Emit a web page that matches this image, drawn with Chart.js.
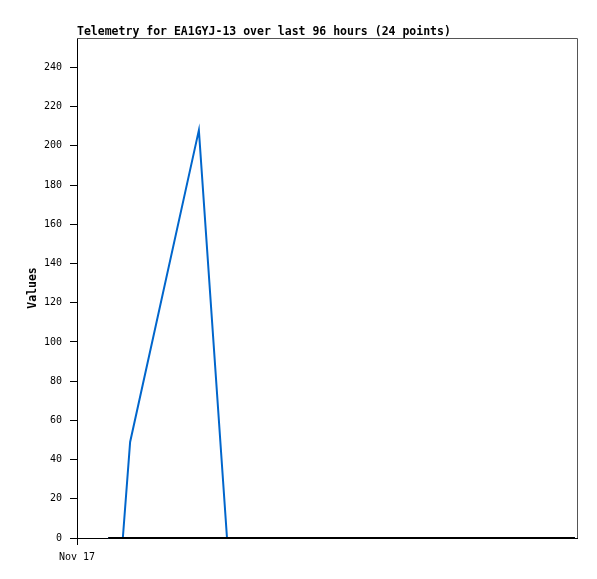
<!DOCTYPE html>
<html>
<head>
<meta charset="utf-8">
<script src="https://cdn.jsdelivr.net/npm/chart.js@4"></script>
<style>
  body { margin: 0; background: #fff; }
  canvas { display: block; }
</style>
</head>
<body>
<canvas id="grafico" width="597" height="579"></canvas>
<script>
// Datos (horas desde Nov 17 00:00)
const horas = [6.0, 8.8, 10.2, 23.4, 28.8, 32.5, 36.4, 40.1, 44.0, 47.8, 51.6, 55.3,
               59.2, 63.0, 66.7, 70.5, 74.3, 78.1, 81.9, 85.6, 88.4, 91.2, 93.5, 95.6];
const valoresAzul = [0, 0, 49, 208, 0, 0, 0, 0, 0, 0, 0, 0,
                     0, 0, 0, 0, 0, 0, 0, 0, 0, 0, 0, 0];
const valoresNegro = [0, 0, 0, 0, 0, 0, 0, 0, 0, 0, 0, 0,
                      0, 0, 0, 0, 0, 0, 0, 0, 0, 0, 0, 0];
const etiquetaX = 'Nov 17';
const titulo = 'Telemetry for EA1GYJ-13 over last 96 hours (24 points)';
const tituloY = 'Values';

const fuente = '"DejaVu Sans Mono", "Liberation Mono", monospace';

// Titulo, etiqueta del eje Y y borde gris
const extras = {
  id: 'extras',
  afterDraw(chart) {
    const ctx = chart.ctx;
    const area = chart.chartArea;
    ctx.save();
    ctx.strokeStyle = '#555';
    ctx.lineWidth = 1;
    ctx.beginPath();
    ctx.moveTo(area.left, area.top + 0.5);
    ctx.lineTo(area.right + 0.5, area.top + 0.5);
    ctx.lineTo(area.right + 0.5, area.bottom);
    ctx.stroke();

    ctx.fillStyle = '#000';
    ctx.font = 'bold 11.5px ' + fuente;
    ctx.textAlign = 'left';
    ctx.textBaseline = 'alphabetic';
    ctx.fillText(titulo, area.left, area.top - 3);

    ctx.translate(36, (area.top + area.bottom) / 2);
    ctx.rotate(-Math.PI / 2);
    ctx.textAlign = 'center';
    ctx.fillText(tituloY, 0, 0);
    ctx.restore();
  }
};

const ctx = document.getElementById('grafico').getContext('2d');
new Chart(ctx, {
  type: 'line',
  data: {
    datasets: [
      {
        label: 'negro',
        data: horas.map((h, i) => ({ x: h, y: valoresNegro[i] })),
        borderColor: '#000',
        borderWidth: 2,
        pointRadius: 0,
        tension: 0,
        clip: false
      },
      {
        label: 'azul',
        data: horas.map((h, i) => ({ x: h, y: valoresAzul[i] })),
        borderColor: '#0066cc',
        borderWidth: 2,
        pointRadius: 0,
        tension: 0,
        clip: false
      }
    ]
  },
  options: {
    responsive: false,
    animation: false,
    layout: { padding: { left: 0, top: 38, right: 20, bottom: 0 } },
    plugins: {
      legend: { display: false },
      tooltip: { enabled: false },
      title: { display: false }
    },
    scales: {
      x: {
        type: 'linear',
        min: 0,
        max: 96,
        afterBuildTicks: (scale) => { scale.ticks = [{ value: 0 }]; },
        afterFit: (scale) => { scale.height = 41; },
        ticks: {
          callback: () => etiquetaX,
          color: '#000',
          font: { family: fuente, size: 10 },
          maxRotation: 0,
          padding: 6
        },
        grid: {
          drawOnChartArea: false,
          drawTicks: true,
          tickLength: 7,
          tickColor: '#000'
        },
        border: { color: '#000', width: 1 }
      },
      y: {
        min: 0,
        max: 255,
        afterBuildTicks: (scale) => {
          const t = [];
          for (let v = 0; v <= 240; v += 20) t.push({ value: v });
          scale.ticks = t;
        },
        afterFit: (scale) => { scale.width = 77; },
        ticks: {
          color: '#000',
          font: { family: fuente, size: 10 },
          padding: 8
        },
        grid: {
          drawOnChartArea: false,
          drawTicks: true,
          tickLength: 7,
          tickColor: '#000'
        },
        border: { color: '#000', width: 1 }
      }
    }
  },
  plugins: [extras]
});
</script>
</body>
</html>
